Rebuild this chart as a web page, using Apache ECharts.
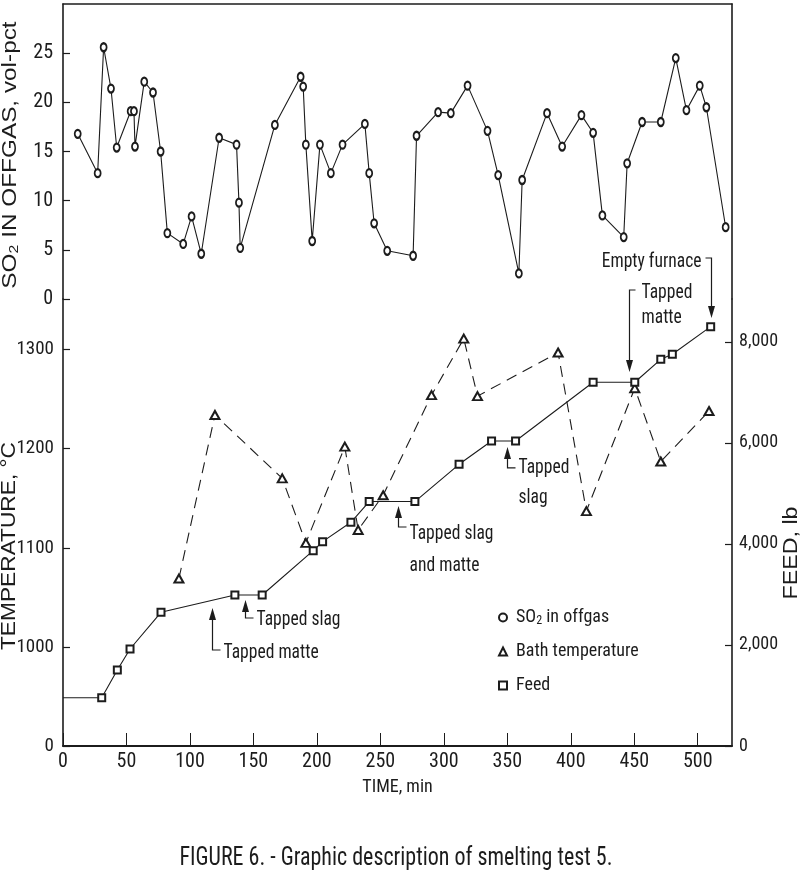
<!DOCTYPE html>
<html><head><meta charset="utf-8">
<script src="https://cdn.jsdelivr.net/npm/echarts@6/dist/echarts.min.js"></script>
<style>html,body{margin:0;padding:0;background:#fff}#c{width:800px;height:876px}</style>
</head><body><div id="c"></div>
<script>
// ---- data ----
const so2Time = [11.6, 27.3, 32, 37.8, 42.3, 53.3, 55.9, 56.7, 64, 70.9, 76.9, 82.2, 94.7, 101.3, 108.9, 123, 136.7, 138.6, 139.6, 166.9, 187.2, 189.2, 191.3, 196.3, 202.4, 211, 220.2, 237.8, 241.2, 245.1, 255.4, 275.8, 278.5, 295.5, 305.5, 318.7, 334.4, 342.8, 359.1, 361.7, 381.3, 393.2, 408.4, 417.6, 424.9, 441.7, 444.4, 456.2, 470.9, 482.7, 491.1, 501.6, 506.8, 522];
const so2Pct = [16.8, 12.8, 25.6, 21.4, 15.4, 19.1, 19.1, 15.5, 22.1, 21.0, 15.0, 6.7, 5.6, 8.4, 4.6, 16.4, 15.7, 9.8, 5.2, 17.7, 22.6, 21.6, 15.7, 5.9, 15.7, 12.8, 15.7, 17.8, 12.8, 7.7, 4.9, 4.4, 16.6, 19.0, 18.9, 21.7, 17.1, 12.6, 2.6, 12.1, 18.9, 15.5, 18.7, 16.9, 8.5, 6.3, 13.8, 18.0, 18.0, 24.5, 19.2, 21.7, 19.5, 7.3];

const tempTime = [91.3, 119.7, 172.7, 191.3, 222, 232.5, 252.2, 290.3, 315.7, 326.5, 390, 412.3, 450.4, 470.9, 508.9];
const tempC = [1069, 1234, 1170, 1105, 1202, 1118, 1153, 1254, 1311, 1253, 1297, 1137, 1261, 1187, 1238];

const feedTime = [0, 30.5, 42.8, 52.8, 77.2, 135.4, 156.9, 197.1, 204.5, 226.8, 241.2, 277.2, 312, 337.6, 356.5, 417.6, 450.4, 470.9, 480, 510.2];
const feedLb = [956, 956, 1505, 1921, 2647, 2990, 2990, 3868, 4046, 4430, 4840, 4840, 5578, 6040, 6040, 7202, 7202, 7657, 7756, 8303];

const timeTicks = [0, 50, 100, 150, 200, 250, 300, 350, 400, 450, 500];
const so2Ticks = [0, 5, 10, 15, 20, 25];
const tempTicks = [900, 1000, 1100, 1200, 1300];      // 900 sits at the axis break, labelled "0"
const feedTicks = [0, 2000, 4000, 6000, 8000];

const seriesNames = ['SO2 in offgas', 'Bath temperature', 'Feed'];

// ---- styling ----
const FN = '"Roboto Condensed","DejaVu Sans Condensed",sans-serif';
const FNc = '"Roboto Condensed", "DejaVu Sans Condensed", sans-serif';
const FR = '"Liberation Sans","DejaVu Sans",Arial,sans-serif';
const INK = '#1c1c1c';

const mctx = document.createElement('canvas').getContext('2d');
function textW(s, size, fam) { mctx.font = size + 'px ' + fam; return mctx.measureText(s).width; }

const chart = echarts.init(document.getElementById('c'), null, {renderer: 'canvas'});

const axLine = w => ({show: true, onZero: false, lineStyle: {color: INK, width: w}});
const lbl = (size, margin) => ({color: INK, fontSize: size, fontFamily: FN, margin: margin});

const option = {
  animation: false,
  backgroundColor: '#fff',
  grid: [
    {left: 63, right: 68, top: 4, height: 295, containLabel: false, outerBoundsMode: 'none'},
    {left: 63, right: 68, top: 299, bottom: 130, containLabel: false, outerBoundsMode: 'none'}
  ],
  xAxis: [
    {gridIndex: 0, type: 'value', min: 0, max: 527, position: 'top',
      axisLine: axLine(1.6), axisTick: {show: false}, axisLabel: {show: false}, splitLine: {show: false}},
    {gridIndex: 1, type: 'value', min: 0, max: 527, interval: 50, position: 'bottom',
      axisLine: axLine(2),
      axisTick: {inside: true, length: 13, lineStyle: {color: INK, width: 1}, customValues: timeTicks},
      axisLabel: Object.assign(lbl(20, 6), {customValues: timeTicks,
        formatter: v => (timeTicks.indexOf(v) >= 0 ? String(v) : '')}),
      splitLine: {show: false},
      name: 'TIME, min', nameLocation: 'middle', nameGap: 32,
      nameTextStyle: {color: INK, fontSize: 18, fontFamily: FN}}
  ],
  yAxis: [
    {gridIndex: 0, type: 'value', min: 0, max: 30, interval: 5, position: 'left',
      axisLine: axLine(1.6),
      axisTick: {inside: true, length: 7, lineStyle: {color: INK, width: 1.2}, customValues: so2Ticks},
      axisLabel: Object.assign(lbl(20, 10), {customValues: so2Ticks,
        formatter: v => (so2Ticks.indexOf(v) >= 0 ? String(v) : '')}),
      splitLine: {show: false}},
    {gridIndex: 0, type: 'value', min: 0, max: 30, position: 'right',
      axisLine: axLine(1.6), axisTick: {show: false}, axisLabel: {show: false}, splitLine: {show: false}},
    {gridIndex: 1, type: 'value', min: 900, max: 1351, interval: 100, position: 'left',
      axisLine: axLine(1.6),
      axisTick: {inside: true, length: 7, lineStyle: {color: INK, width: 1.2}, customValues: tempTicks},
      axisLabel: Object.assign(lbl(19, 9), {customValues: tempTicks,
        formatter: v => (v === 900 ? '0' : (tempTicks.indexOf(v) >= 0 ? String(v) : ''))}),
      splitLine: {show: false}},
    {gridIndex: 1, type: 'value', min: 0, max: 8851, interval: 2000, position: 'right',
      axisLine: axLine(1.6),
      axisTick: {inside: true, length: 7, lineStyle: {color: INK, width: 1.2}, customValues: feedTicks},
      axisLabel: Object.assign(lbl(18, 7), {customValues: feedTicks,
        formatter: v => (feedTicks.indexOf(v) >= 0 ? (v === 0 ? '0' : (v / 1000) + ',000') : '')}),
      splitLine: {show: false}}
  ],
  legend: {
    orient: 'vertical', left: 493, top: 602, itemGap: 13, itemWidth: 8, itemHeight: 8,
    textStyle: {color: INK, fontSize: 18, fontFamily: FN, lineHeight: 21, padding: [0, 0, 0, 4],
      rich: {sub: {fontSize: 12, fontFamily: FN, color: INK, padding: [7, 0, 0, 0]}}},
    formatter: n => (n === seriesNames[0] ? 'SO{sub|2} in offgas' : n),
    data: [
      {name: seriesNames[0], icon: 'emptyCircle'},
      {name: seriesNames[1], icon: 'emptyTriangle'},
      {name: seriesNames[2], icon: 'emptyRect'}
    ]
  },
  series: [
    {name: seriesNames[0], type: 'line', xAxisIndex: 0, yAxisIndex: 0,
      data: so2Time.map((t, i) => [t, so2Pct[i]]),
      symbol: 'emptyCircle', symbolSize: [6, 8],
      lineStyle: {color: INK, width: 1.1},
      itemStyle: {color: INK, borderColor: INK, borderWidth: 1.1}, z: 3},
    {name: seriesNames[1], type: 'line', xAxisIndex: 1, yAxisIndex: 2,
      data: tempTime.map((t, i) => [t, tempC[i]]),
      symbol: 'emptyTriangle', symbolSize: [9, 8],
      lineStyle: {color: INK, width: 1.1, type: [11, 7]},
      itemStyle: {color: INK, borderColor: INK, borderWidth: 1.1}, z: 3},
    {name: seriesNames[2], type: 'line', xAxisIndex: 1, yAxisIndex: 3,
      data: feedTime.map((t, i) => (i === 0 ? {value: [t, feedLb[i]], symbol: 'none'} : [t, feedLb[i]])),
      symbol: 'emptyRect', symbolSize: 7,
      lineStyle: {color: INK, width: 1.1},
      itemStyle: {color: INK, borderColor: INK, borderWidth: 1.1}, z: 4}
  ]
};
chart.setOption(option);

// ---- annotations, anchored to data coordinates (time, feed lb) ----
function P(t, v) { return chart.convertToPixel({xAxisIndex: 1, yAxisIndex: 3}, [t, v]); }
const g = [];
const ANN_SIZE = 20;
const ANN_SX = Math.min(1, 84 / textW('Tapped slag', ANN_SIZE, FNc));
const txt = (x, y, s, align) => g.push({type: 'text', x: x, y: y, z: 10, scaleX: ANN_SX,
  style: {text: s, fill: INK, fontSize: ANN_SIZE, fontFamily: FN, align: align || 'left', verticalAlign: 'middle'}});
const head = (x, y, dir) => g.push({type: 'polygon', z: 10,
  shape: {points: [[x, y], [x - 3.5, y - 12 * dir], [x + 3.5, y - 12 * dir]]}, style: {fill: INK}});
const pl = pts => g.push({type: 'polyline', z: 10, shape: {points: pts}, style: {stroke: INK, lineWidth: 1.2, fill: null}});

[
  {t: 117, tip: 2733, stem: 42, lines: ['Tapped matte'], dy: 3, gap: 0},
  {t: 143.3, tip: 2891, stem: 18, lines: ['Tapped slag'], dy: 2, gap: 0},
  {t: 264, tip: 4752, stem: 21, lines: ['Tapped slag', 'and matte'], dy: 7, gap: 32},
  {t: 349.6, tip: 5921, stem: 21, lines: ['Tapped', 'slag'], dy: 0, gap: 30}
].forEach(a => {
  const p = P(a.t, a.tip), x = Math.round(p[0]) + 0.5, y = p[1];
  head(x, y, -1);
  pl([[x, y + 8], [x, y + a.stem], [x + 8, y + a.stem]]);
  a.lines.forEach((s, i) => txt(x + 11, y + a.stem + a.dy + i * a.gap, s));
});
(function () {
  const p = P(445.7, 7406), x = Math.round(p[0]) + 0.5, y = p[1], top = y - 82;
  head(x, y, 1);
  pl([[x + 6, top], [x, top], [x, y - 8]]);
  txt(x + 12, top + 3, 'Tapped');
  txt(x + 12, top + 28, 'matte');
  const q = P(510.2, 8475), x2 = Math.round(q[0]) + 0.5, y2 = q[1], top2 = y2 - 60;
  head(x2, y2, 1);
  pl([[x2 - 6, top2], [x2, top2], [x2, y2 - 8]]);
  txt(x2 - 10, top2 + 4, 'Empty furnace', 'right');
})();

// axis titles (stretched along their length to the reference's letter spacing) and caption
const TS = 20;
g.push({type: 'text', x: 10, y: 155, rotation: Math.PI / 2, z: 10,
  scaleX: 272 / textW('SO2 IN OFFGAS, vol-pct', TS, FR),
  style: {text: 'SO{s|2} IN OFFGAS, vol-pct', fill: INK, fontSize: TS, fontFamily: FR, align: 'center', verticalAlign: 'middle',
    rich: {s: {fontSize: 13, fontFamily: FR, fill: INK, padding: [9, 0, 0, 0]}}}});
g.push({type: 'text', x: 9, y: 546, rotation: Math.PI / 2, z: 10,
  scaleX: 208 / textW('TEMPERATURE, \u00B0C', TS, FR),
  style: {text: 'TEMPERATURE, \u00B0C', fill: INK, fontSize: TS, fontFamily: FR, align: 'center', verticalAlign: 'middle'}});
g.push({type: 'text', x: 791, y: 553, rotation: Math.PI / 2, z: 10,
  scaleX: 93 / textW('FEED, lb', TS, FR),
  style: {text: 'FEED, lb', fill: INK, fontSize: TS, fontFamily: FR, align: 'center', verticalAlign: 'middle'}});
const CAP = 'FIGURE 6. - Graphic description of smelting test 5.';
g.push({type: 'text', x: 396, y: 858, z: 10, scaleX: 433 / textW(CAP, 26, FNc),
  style: {text: CAP, fill: INK, fontSize: 26, fontFamily: FN, align: 'center', verticalAlign: 'middle'}});

chart.setOption({graphic: g});
</script></body></html>
